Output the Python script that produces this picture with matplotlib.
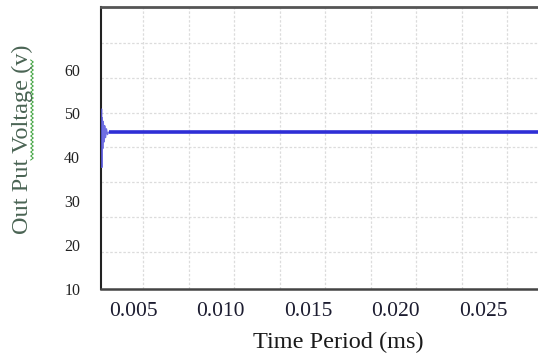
import numpy as np
import matplotlib
matplotlib.use("Agg")
import matplotlib.pyplot as plt
from matplotlib.lines import Line2D

# ---- data ----
time_ms = [0.00318, 0.00320, 0.00322, 0.00324, 0.00327, 0.00330, 0.00334,
           0.00338, 0.00343, 0.00348, 0.00354, 0.00360, 0.0285]
voltage = [45.0, 51.0, 37.7, 49.0, 42.0, 48.2, 43.5,
           47.2, 44.5, 46.5, 45.2, 45.7, 45.7]
transient_end = 11  # index where steady state begins

x_ticks = [0.005, 0.010, 0.015, 0.020, 0.025]
x_ticklabels = ["0.005", "0.010", "0.015", "0.020", "0.025"]
y_ticks = [10, 20, 30, 40, 50, 60]
y_ticklabels = ["10", "20", "30", "40", "50", "60"]

W, H = 538, 356
fig = plt.figure(figsize=(W / 100, H / 100), dpi=100)
fig.patch.set_facecolor("white")
ax = fig.add_axes([101 / W, 1 - 289 / H, 1 - 101 / W + 0.002, (289 - 7) / H])

serif = ["Liberation Serif", "DejaVu Serif"]

# transient (thin) and steady state (thick)
ax.plot(time_ms[:transient_end + 1], voltage[:transient_end + 1],
        color="#5555dd", lw=1.0, alpha=0.85, zorder=3)
ax.plot(time_ms[transient_end:], voltage[transient_end:],
        color="#2e2ed6", lw=2.6, solid_capstyle="butt", zorder=3)

ax.set_xticks(x_ticks)
ax.set_xticklabels(x_ticklabels, fontfamily=serif, fontsize=15.5, color="#1c1c30")
ax.set_yticks(y_ticks)
ax.set_yticklabels(y_ticklabels, fontfamily=serif, fontsize=11.5, color="#222222")
ax.tick_params(axis="x", length=0, pad=9)
ax.tick_params(axis="y", length=0, pad=15)

# grid lines (independent from label positions, as in reference)
xg = 0.00557 + 0.0026 * np.arange(0, 9)
yg = 18.4 + 7.95 * np.arange(0, 7)
ax.set_xticks(xg, minor=True)
ax.set_yticks(yg, minor=True)
ax.tick_params(which="minor", length=0)
ax.grid(which="minor", color="#dcdcdc", lw=0.9, linestyle=(0, (2, 1.5)))
ax.grid(which="major", visible=False)

ax.set_xlim(0.00317, 0.0282)
ax.set_ylim(9.95, 74.3)

ax.spines["right"].set_visible(False)
ax.spines["top"].set_color("#555555")
ax.spines["top"].set_linewidth(2.0)
ax.spines["bottom"].set_color("#444444")
ax.spines["bottom"].set_linewidth(1.8)
ax.spines["left"].set_color("#222222")
ax.spines["left"].set_linewidth(1.5)

fig.text(22 / W, 1 - 139 / H, "Out Put Voltage (v)", rotation=90,
         ha="center", va="center", fontfamily=serif, fontsize=17.5,
         color="#4a6454")
fig.text(338 / W, 1 - 342 / H, "Time Period (ms)", ha="center", va="center",
         fontfamily=serif, fontsize=17.5, color="#1a1a1a")

# green spell-check squiggle beside the y label
yy = np.arange(60, 161, 2.0)
xx = 32 + np.where(np.arange(len(yy)) % 2 == 0, -1.3, 1.3)
fig.add_artist(Line2D(xx / W, 1 - yy / H, color="#3aa03a", lw=0.7,
                      transform=fig.transFigure))

fig.savefig("out.png", dpi=100)
